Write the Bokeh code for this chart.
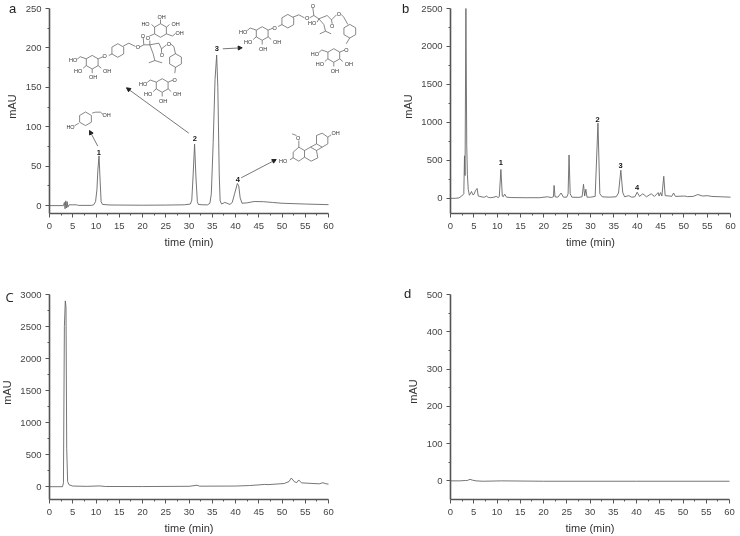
from bokeh.plotting import figure
from bokeh.layouts import gridplot
from bokeh.models import FixedTicker, Label, Arrow, NormalHead, ColumnDataSource
from bokeh.embed import file_html
from bokeh.resources import INLINE
import math

# --- chromatogram data ---
time_a = [0,3,3.2,3.35,3.5,3.65,3.8,3.95,4.2,5,5.8,6.2,9,9.5,9.9,10.2,10.4,10.65,10.9,11.1,11.4,13,20,25,29,30.3,30.6,30.9,31.2,31.5,31.8,32,33,34,34.5,34.8,35.2,35.6,35.95,36.2,36.5,36.7,37,37.7,38.2,38.8,39.3,39.8,40.4,40.7,41,41.4,42.5,44,46,48,50,55,60]
mau_a = [0,0,4,-4,6,-3,5,-2,1,1,1,0.3,0.3,1,5,20,45,63,30,5,1.5,0.8,0.5,0.7,1,2,7,40,78,35,5,1.5,1,1,3,15,80,160,191,150,40,6,2,4,3,1.5,4,15,28,25,10,3,3.5,5.2,5,4,3,2,1.2]

time_b = [0,1,1.8,2.4,2.85,3.0,3.12,3.3,3.48,3.62,3.8,4.05,4.25,4.5,4.75,5.0,5.35,5.7,5.95,6.3,7,7.3,7.7,8.1,8.6,9.3,9.8,10.2,10.45,10.8,11.1,11.3,11.6,12,13,16,19,20.8,21.6,22.05,22.2,22.4,23,23.7,24.2,24.9,25.2,25.4,25.65,26,27.5,28.2,28.5,28.75,29.0,29.25,30,31,31.6,32,32.5,34,35.5,36,36.5,36.9,37.3,38.2,38.8,39.5,40,40.5,41.2,42,43,43.7,44.5,44.7,45,45.3,45.7,46,47,47.4,47.8,48.2,50.2,50.8,52,53,54,55,56,58,60]
mau_b = [0,0,5,30,60,560,300,2500,700,310,120,40,60,90,50,50,100,130,30,25,15,15,30,12,8,15,25,10,20,380,30,20,55,15,10,8,8,20,10,20,170,20,15,70,15,15,60,570,60,15,12,20,185,30,120,15,15,25,990,60,20,15,20,70,370,80,20,35,15,20,80,25,60,20,60,25,75,30,75,30,290,35,30,25,70,25,30,22,25,50,30,35,25,20,15]

time_c = [0,2.8,3.0,3.2,3.4,3.55,3.7,3.9,4.2,5,8,10.8,12,20,30,31.7,32.3,40,43,45,46.3,47,50.5,51.5,52,52.7,53.2,53.6,54.2,56,58,58.8,59.3,60]
mau_c = [0,0,60,2500,2900,2800,600,80,30,10,5,12,3,2,6,22,8,10,18,28,36,32,50,80,135,75,65,105,60,52,45,62,48,40]

time_d = [0,2,3.2,3.6,4.2,4.7,5.5,7,11,20,40,60]
mau_d = [0,0,1,1,4,2,0,-1,0,-1,-1,-1]

x_ticks = [0,5,10,15,20,25,30,35,40,45,50,55,60]
x_minor = [2.5,7.5,12.5,17.5,22.5,27.5,32.5,37.5,42.5,47.5,52.5,57.5]
yticks_a = [0,50,100,150,200,250]
yminor_a = [25,75,125,175,225]
yticks_b = [0,500,1000,1500,2000,2500]
yminor_b = [250,750,1250,1750,2250]
yticks_c = [0,500,1000,1500,2000,2500,3000]
yminor_c = [250,750,1250,1750,2250,2750]
yticks_d = [0,100,200,300,400,500]
yminor_d = [50,150,250,350,450]

FONT = "Liberation Sans"
INK = "#555555"

def mapper(x0, x1, y0, y1, ymin, ymax):
    """reference pixel -> data of a panel"""
    return lambda px, py: ((px-x0)/(x1-x0)*60, ymin+(y1-py)/(y1-y0)*(ymax-ymin))

ma = mapper(49, 328, 8, 213, -10, 250)
mb = mapper(450, 730, 8, 213, -200, 2500)
mc = mapper(49, 328, 294, 499, -200, 3000)
md = mapper(450, 729, 294, 499, -50, 500)

def panel(t, v, m, ox, oy, H, ymin, ymax, yt, ym):
    # the frame fills the whole figure, so that notes may lie anywhere; the axes sit at fixed places
    x_lo, y_hi = m(ox, oy)
    x_hi, y_lo = m(ox+370, oy+H)
    p = figure(width=370, height=H, x_range=(x_lo, x_hi), y_range=(y_lo, y_hi), output_backend="svg",
               toolbar_location=None, min_border_left=0, min_border_right=0,
               min_border_top=0, min_border_bottom=0, x_axis_label="time (min)")
    p.outline_line_color = None
    p.grid.visible = False
    p.xaxis.ticker = FixedTicker(ticks=x_ticks, minor_ticks=x_minor)
    p.yaxis.ticker = FixedTicker(ticks=yt, minor_ticks=ym)
    p.xaxis[0].fixed_location = ymin
    p.yaxis[0].fixed_location = 0
    p.xaxis[0].bounds = (0, 60)
    p.yaxis[0].bounds = (ymin, ymax)
    for ax in (p.xaxis[0], p.yaxis[0]):
        ax.axis_line_color = INK
        ax.axis_line_width = 1.6
        ax.major_tick_line_color = INK
        ax.minor_tick_line_color = INK
        ax.major_tick_in = 0
        ax.major_tick_out = 4
        ax.minor_tick_in = 0
        ax.minor_tick_out = 2
        ax.major_label_text_font = FONT
        ax.major_label_text_font_size = "9.5px"
        ax.major_label_text_color = "#444444"
        ax.major_label_standoff = 4
        ax.axis_label_text_font = FONT
        ax.axis_label_text_font_size = "11px"
        ax.axis_label_text_font_style = "normal"
        ax.axis_label_text_color = "#333333"
    p.xaxis[0].major_label_standoff = 5
    p.xaxis[0].axis_label_standoff = 4
    p.line(t, v, line_color="#666666", line_width=0.9)
    return p

a = panel(time_a, mau_a, ma, 0, 0, 270, -10, 250, yticks_a, yminor_a)
b = panel(time_b, mau_b, mb, 370, 0, 270, -200, 2500, yticks_b, yminor_b)
c = panel(time_c, mau_c, mc, 0, 270, 266, -200, 3000, yticks_c, yminor_c)
d = panel(time_d, mau_d, md, 370, 270, 266, -50, 500, yticks_d, yminor_d)

def text(p, m, px, py, s, size="12px", style="normal", font=FONT, color="#222222", angle=0):
    x, y = m(px, py)
    p.add_layout(Label(x=x, y=y, text=s, text_font=font, text_font_size=size, text_font_style=style,
                       text_color=color, text_align="center", text_baseline="middle", angle=angle))

for p_, m_, px_, py_ in [(a,ma,11,106),(b,mb,407,106),(c,mc,6,392),(d,md,412,391)]:
    text(p_, m_, px_, py_, "mAU", "11px", color="#333333", angle=math.pi/2)

text(a, ma, 12, 8, "a", "13px")
text(b, mb, 405, 8, "b", "13px")
text(c, mc, 9, 296, "C", "13px", font="Open Sans")
text(d, md, 407, 293, "d", "13px")

# peak numbers
for s, px, py in [("1",98.3,151.5),("2",194.3,137.5),("3",216.3,48),("4",237.3,179)]:
    text(a, ma, px, py, s, "7.5px", "bold", color="#111111")
for s, px, py in [("1",500.3,161.5),("2",597,118.5),("3",620,164.5),("4",636.5,186.5)]:
    text(b, mb, px, py, s, "7.5px", "bold", color="#111111")

# arrows
for (x0,y0,x1,y1) in [(97.3,145.7,89,130),(188.3,132.7,126,87.3),(222.3,48.3,241.7,47.3),(240.7,177.3,275.7,159)]:
    xs, ys = ma(x0,y0); xe, ye = ma(x1,y1)
    a.add_layout(Arrow(end=NormalHead(size=4, fill_color="#222222", line_color="#222222"),
                       x_start=xs, y_start=ys, x_end=xe, y_end=ye,
                       line_color="#555555", line_width=0.8))

# chemical structure sketches, in reference pixels
segs = {"x0": [], "y0": [], "x1": [], "y1": []}

def poly(pts, closed=False):
    pts = list(pts) + ([pts[0]] if closed else [])
    xy = [ma(*q) for q in pts]
    for q0, q1 in zip(xy[:-1], xy[1:]):
        segs["x0"].append(q0[0]); segs["y0"].append(q0[1])
        segs["x1"].append(q1[0]); segs["y1"].append(q1[1])

def ring(cx, cy, r=6.8, start=90):
    pts = [(cx+r*math.cos(math.radians(start+60*i)), cy-r*math.sin(math.radians(start+60*i))) for i in range(6)]
    poly(pts, True)
    return pts

def chem(px, py, s):
    text(a, ma, px, py, s, "5.5px", color="#333333")

def glucose(cx, cy, flip=False):
    sg = -1 if flip else 1
    ring(cx, cy)
    poly([(cx-6*sg, cy-3.4*sg), (cx-12*sg, cy-5.5*sg), (cx-15*sg, cy-3*sg)])
    poly([(cx+6*sg, cy-3.4*sg), (cx+11*sg, cy-5.5*sg)])
    poly([(cx-6*sg, cy+3.4*sg), (cx-9*sg, cy+6*sg)])
    poly([(cx+6*sg, cy+3.4*sg), (cx+9*sg, cy+6*sg)])
    poly([(cx, cy+7*sg), (cx, cy+11*sg)])
    if flip:
        chem(cx+19, cy+2, "OH"); chem(cx-15, cy-7, "HO"); chem(cx+15, cy-7, "OH"); chem(cx+1, cy-14, "OH")
        chem(cx-12.5, cy+7, "O")
    else:
        chem(cx-19, cy-2, "HO"); chem(cx-14, cy+8.5, "HO"); chem(cx+15, cy+8.5, "OH"); chem(cx+1, cy+15, "OH")
        chem(cx+12.5, cy-6, "O")

def zpts(ox, oy, pts):
    return [(ox+u/3, oy+v/3) for u, v in pts]

# compound 2 (offset of its crop: 60, 5)
glucose(91.7, 61.7); glucose(160, 30, flip=True); glucose(161.7, 85)
ring(117.3, 50, start=30); ring(175, 60, start=90)
poly(zpts(60,5,[(145,150),(155,145)]))
poly(zpts(60,5,[(188,122),(205,113),(225,123)]))
poly(zpts(60,5,[(237,125),(250,118),(268,118),(295,113),(303,130),(318,118)]))
poly(zpts(60,5,[(250,118),(248,95)]))
poly(zpts(60,5,[(303,130),(303,142)]))
poly(zpts(60,5,[(268,118),(268,105)]))
poly(zpts(60,5,[(268,118),(278,145),(283,165),(265,172)]))
poly(zpts(60,5,[(283,165),(305,172)]))
poly(zpts(60,5,[(330,115),(340,123),(345,145)]))
poly(zpts(60,5,[(345,185),(343,203)]))
for (u,v,s) in [(232,124,"O"),(247,90,"O"),(325,114,"O"),(304,147,"O")]:
    chem(60+u/3, 5+v/3, s)

# compound 3 (offset of its crop: 230, 0)
glucose(261.7, 33); glucose(333.3, 55)
ring(287.3, 20.7, start=30); ring(349.3, 30.7, start=90)
poly(zpts(230,0,[(143,78),(155,72)]))
poly(zpts(230,0,[(187,50),(205,43),(222,52)]))
poly(zpts(230,0,[(237,52),(250,45),(265,55),(290,45),(303,58),(318,43)]))
poly(zpts(230,0,[(250,45),(247,22)]))
poly(zpts(230,0,[(303,58),(305,70)]))
poly(zpts(230,0,[(265,55),(260,65)]))
poly(zpts(230,0,[(265,55),(280,72),(285,92),(268,100)]))
poly(zpts(230,0,[(285,92),(302,100)]))
poly(zpts(230,0,[(332,42),(340,50),(352,72)]))
poly(zpts(230,0,[(358,112),(347,130)]))
for (u,v,s) in [(230,52,"O"),(247,15,"O"),(325,40,"O"),(305,76,"O"),(245,68,"HO")]:
    chem(230+u/3, v/3, s)

# compound 1 (offset of its crop: 50, 100)
ring(85, 118.3, start=30)
poly(zpts(50,100,[(125,38),(135,35),(150,35),(158,42)]))
poly(zpts(50,100,[(85,68),(72,76)]))
chem(106, 114.5, "OH"); chem(70, 126, "HO")

# compound 4 (offset of its crop: 230, 120)
poly(zpts(230,120,[(188,95),(205,80),(222,90),(222,110),(205,122),(188,112)]), True)
poly(zpts(230,120,[(222,90),(240,80),(258,90),(262,112),(242,122),(222,110)]))
poly(zpts(230,120,[(258,70),(258,45),(275,38),(292,50),(292,70),(275,80)]), True)
poly(zpts(230,120,[(240,80),(258,70)]))
poly(zpts(230,120,[(275,80),(258,90)]))
poly(zpts(230,120,[(205,80),(205,60)]))
poly(zpts(230,120,[(198,45),(185,40)]))
poly(zpts(230,120,[(188,112),(178,118)]))
poly(zpts(230,120,[(292,50),(302,43)]))
chem(230+203/3, 120+51/3, "O"); chem(230+158/3, 120+122/3, "HO"); chem(230+315/3, 120+38/3, "OH")

a.add_layout(Arrow(end=None, source=ColumnDataSource(segs), x_start="x0", y_start="y0",
                   x_end="x1", y_end="y1", line_color="#555555", line_width=0.7))

grid = gridplot([[a, b], [c, d]], toolbar_location=None)
grid.styles = {"position": "fixed", "left": "0px", "top": "0px"}
open("out.html", "w").write(file_html(grid, INLINE))
